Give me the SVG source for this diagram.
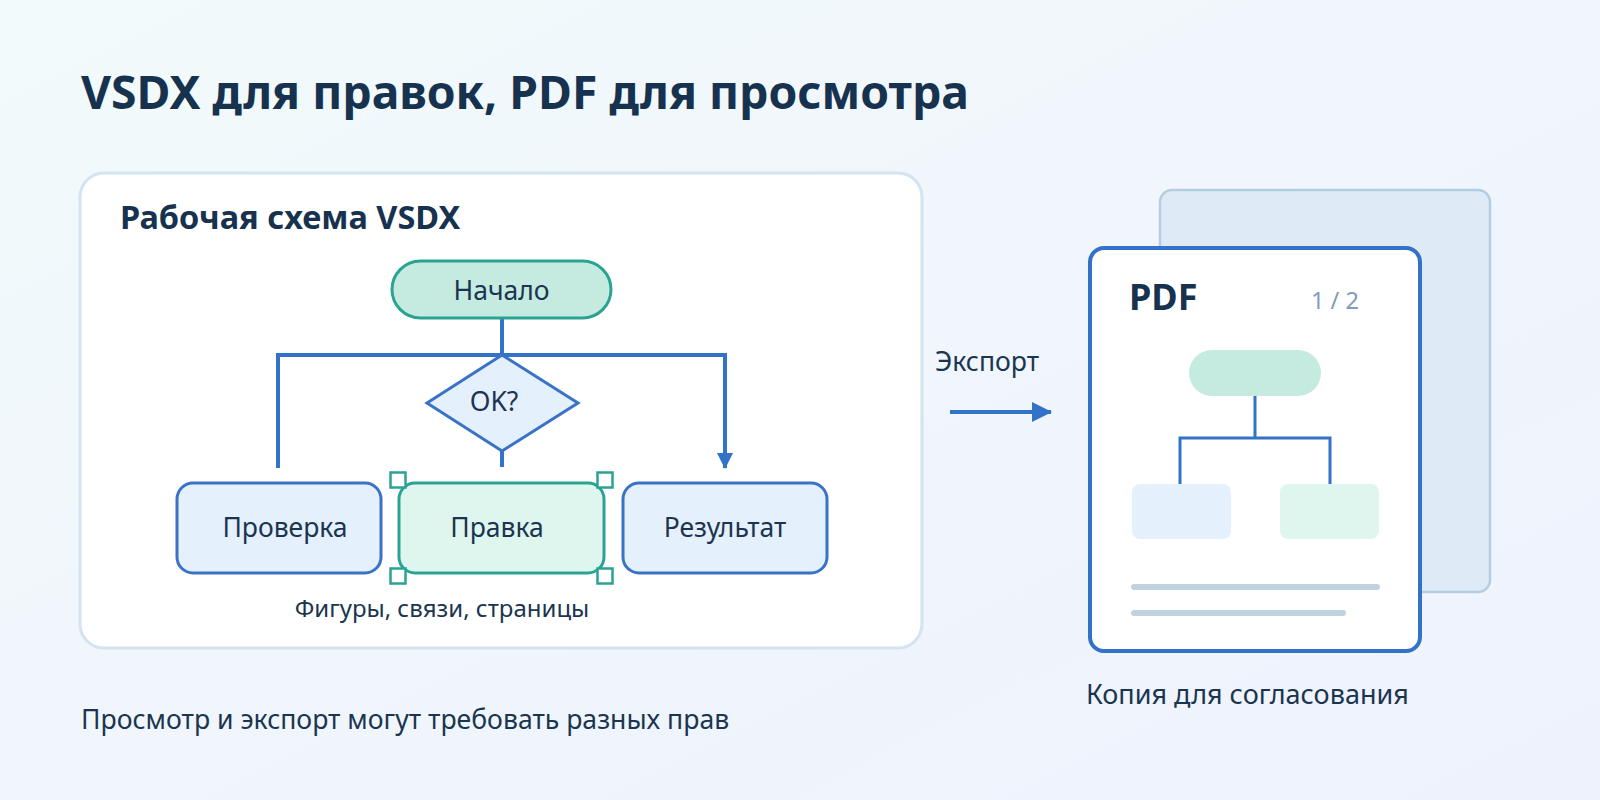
<svg xmlns="http://www.w3.org/2000/svg" width="1600" height="800" viewBox="0 0 1600 800">
<defs>
<linearGradient id="bg" x1="0" y1="0" x2="1" y2="1">
<stop offset="0" stop-color="#f2fafb"/>
<stop offset="1" stop-color="#eef2fd"/>
</linearGradient>
<marker id="arr" viewBox="0 0 16 16" refX="15" refY="8" markerWidth="16" markerHeight="16" markerUnits="userSpaceOnUse" orient="auto">
<path d="M0,0 L16,8 L0,16 Z" fill="#3272c9"/>
</marker>
<marker id="arr2" viewBox="0 0 20 20" refX="19" refY="10" markerWidth="20" markerHeight="20" markerUnits="userSpaceOnUse" orient="auto">
<path d="M0,0 L20,10 L0,20 Z" fill="#3272c9"/>
</marker>
</defs>
<style>
text{font-family:"Noto Sans","Open Sans","DejaVu Sans",sans-serif;fill:#1b3550}
.t{font-size:46.3px;font-weight:700;fill:#17324f}
.h{font-size:32.5px;font-weight:700;fill:#17324f}
.n{font-size:26.5px;text-anchor:middle}
.s{font-size:24px}
.b{font-size:26.6px}
.blue{fill:#e5f0fd;stroke:#3a73c6;stroke-width:3}
.teal{stroke:#2aa393;stroke-width:3}
.ln{fill:none;stroke:#3272c9;stroke-width:4}
.hd{fill:#ffffff;stroke:#2aa393;stroke-width:2.5}
</style>
<rect width="1600" height="800" fill="url(#bg)"/>
<text class="t" x="81" y="109">VSDX для правок, PDF для просмотра</text>

<g id="panel">
<rect x="80" y="173" width="842" height="475" rx="24" fill="#ffffff" stroke="#d3e3ef" stroke-width="3"/>
<text class="h" x="120" y="229">Рабочая схема VSDX</text>
<text class="s" x="442" y="617" text-anchor="middle">Фигуры, связи, страницы</text>
</g>

<g id="connectors">
<path class="ln" d="M502,318 V355"/>
<path class="ln" d="M278,468 V355 H725 V468" marker-end="url(#arr)"/>
<path class="ln" d="M502,451 V467"/>
<path class="ln" d="M950,412 H1051" marker-end="url(#arr2)"/>
</g>

<g id="start">
<rect x="392" y="261" width="219" height="57" rx="28.5" fill="#c5eae0" class="teal"/>
<text class="n" x="501.5" y="300">Начало</text>
</g>
<g id="decision">
<path d="M502,355 L578,403 L502,451 L427,403 Z" fill="#e5f0fd" stroke="#3a73c6" stroke-width="3"/>
<text class="n" x="494" y="411">OK?</text>
</g>
<g id="check">
<rect class="blue" x="177" y="483" width="204" height="90" rx="16"/>
<text class="n" x="285" y="537">Проверка</text>
</g>
<g id="edit">
<rect x="399" y="483" width="205" height="90" rx="16" fill="#dff6ef" class="teal"/>
<text class="n" x="497" y="537">Правка</text>
<rect class="hd" x="390.5" y="472.5" width="15" height="15"/>
<rect class="hd" x="597.5" y="472.5" width="15" height="15"/>
<rect class="hd" x="390.5" y="568.5" width="15" height="15"/>
<rect class="hd" x="597.5" y="568.5" width="15" height="15"/>
</g>
<g id="result">
<rect class="blue" x="623" y="483" width="204" height="90" rx="16"/>
<text class="n" x="725" y="537">Результат</text>
</g>

<g id="export-label">
<text class="b" x="935" y="371">Экспорт</text>
</g>

<g id="pdf">
<rect x="1160" y="190" width="330" height="402" rx="12" fill="#deebf7" stroke="#b3cde2" stroke-width="2.5"/>
<rect x="1090" y="248" width="330" height="403" rx="14" fill="#ffffff" stroke="#3272c9" stroke-width="4"/>
<text x="1129" y="310" style="font-size:36px;font-weight:700;fill:#17324f">PDF</text>
<text x="1311" y="309" style="font-size:23.5px;fill:#7f9cbd">1 / 2</text>
<rect x="1189" y="350" width="132" height="46" rx="23" fill="#c5eae0"/>
<path d="M1255,396 V438 M1180,484 V438 H1330 V484" fill="none" stroke="#3272c9" stroke-width="3"/>
<rect x="1132" y="484" width="99" height="55" rx="8" fill="#e5f0fd"/>
<rect x="1280" y="484" width="99" height="55" rx="8" fill="#dff6ef"/>
<path d="M1134,587 H1377 M1134,613 H1343" stroke="#c0d2e2" stroke-width="6" stroke-linecap="round"/>
<text class="b" x="1086" y="704" style="font-size:27px">Копия для согласования</text>
</g>

<text class="b" x="81" y="729">Просмотр и экспорт могут требовать разных прав</text>
</svg>
